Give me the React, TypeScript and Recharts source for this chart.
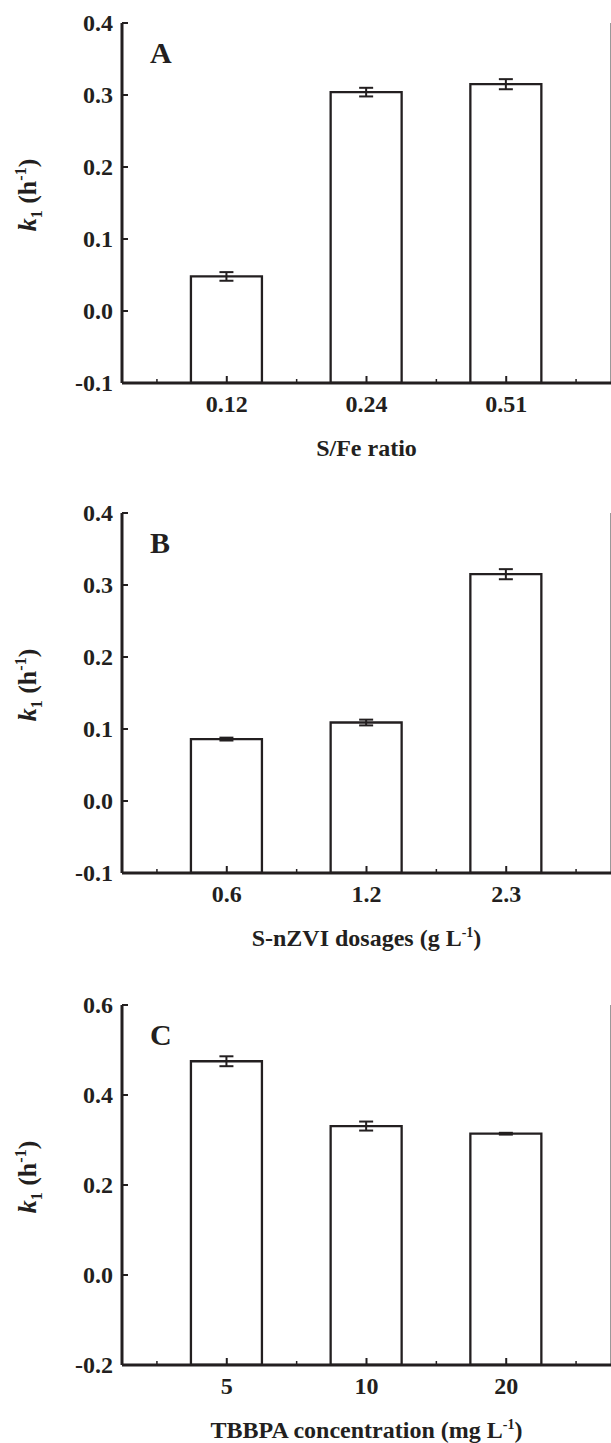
import React from 'react';
import { BarChart, Bar, XAxis, YAxis, ErrorBar, ReferenceLine } from 'recharts';

// category positions on the x axis
const positions = [1, 2, 3];

// Panel A
const labelsA = ['0.12', '0.24', '0.51'];
const valuesA = [0.048, 0.304, 0.315];
const errorsA = [0.006, 0.006, 0.007];
const yTicksA = [-0.1, 0, 0.1, 0.2, 0.3, 0.4];

// Panel B
const labelsB = ['0.6', '1.2', '2.3'];
const valuesB = [0.086, 0.109, 0.315];
const errorsB = [0.002, 0.004, 0.007];
const yTicksB = [-0.1, 0, 0.1, 0.2, 0.3, 0.4];

// Panel C
const labelsC = ['5', '10', '20'];
const valuesC = [0.475, 0.331, 0.314];
const errorsC = [0.011, 0.01, 0.002];
const yTicksC = [-0.2, 0, 0.2, 0.4, 0.6];

const xTicks = [0.5, 1, 1.5, 2, 2.5, 3, 3.5];
const topTicks = [1, 2, 3, 4, 5, 6, 7, 8, 9];

const FONT = "'Liberation Serif', 'Times New Roman', serif";
const INK = '#231f20';

type PanelProps = {
  labels: string[];
  values: number[];
  errors: number[];
  yTicks: number[];
  decimals: number;
  letter: string;
  title: React.ReactNode;
  height: number;
  marginTop: number;
};

function Panel({ labels, values, errors, yTicks, decimals, letter, title, height, marginTop }: PanelProps) {
  const yMin = yTicks[0];
  const yMax = yTicks[yTicks.length - 1];
  const data = positions.map((p, i) => ({ pos: p, range: [yMin, values[i]], err: errors[i] }));

  const XTick = (props: any) => {
    const { x, y, payload } = props;
    const idx = positions.indexOf(payload.value);
    if (idx < 0) {
      return <line x1={x} x2={x} y1={y} y2={y - 4} stroke={INK} strokeWidth={1.5} />;
    }
    return (
      <g>
        <line x1={x} x2={x} y1={y} y2={y - 7} stroke={INK} strokeWidth={2} />
        <text x={x} y={y + 29} textAnchor="middle" fontFamily={FONT} fontWeight="bold" fontSize={24} fill={INK}>
          {labels[idx]}
        </text>
      </g>
    );
  };

  const TopTick = (props: any) => {
    const { x, y } = props;
    return <line x1={x} x2={x} y1={y} y2={y + 4} stroke="#777" strokeWidth={1} />;
  };

  const YTick = (props: any) => {
    const { x, y, payload } = props;
    return (
      <g>
        <line x1={x} x2={x + 6} y1={y} y2={y} stroke={INK} strokeWidth={2} />
        <text x={x - 9} y={y} dy="0.35em" textAnchor="end" fontFamily={FONT} fontWeight="bold" fontSize={24} fill={INK}>
          {Number(payload.value).toFixed(decimals)}
        </text>
      </g>
    );
  };

  const yLabel = (props: any) => {
    const vb = props.viewBox || { x: 0, y: marginTop, width: 122, height: 360 };
    const bx = vb.x + 36;
    const cy = vb.y + vb.height / 2 - 8;
    return (
      <g>
        <text
          x={bx}
          y={cy}
          transform={`rotate(-90 ${bx} ${cy})`}
          textAnchor="middle"
          fontFamily={FONT}
          fontWeight="bold"
          fontSize={26}
          fill={INK}
        >
          <tspan fontStyle="italic">k</tspan>
          <tspan dy={6} fontSize={16}>1</tspan>
          <tspan dy={-6}>{'\u00A0(h'}</tspan>
          <tspan dy={-10} fontSize={16}>-1</tspan>
          <tspan dy={10}>)</tspan>
        </text>
        <text x={vb.x + vb.width + 28} y={vb.y + 40} fontFamily={FONT} fontWeight="bold" fontSize={30} fill={INK}>
          {letter}
        </text>
      </g>
    );
  };

  const xTitle = (props: any) => {
    const vb = props.viewBox || { x: 122, y: marginTop + 360, width: 489, height: 100 };
    return (
      <text
        x={vb.x + vb.width / 2}
        y={vb.y + 73}
        textAnchor="middle"
        fontFamily={FONT}
        fontWeight="bold"
        fontSize={24}
        fill={INK}
      >
        {title}
      </text>
    );
  };

  return (
    <BarChart
      width={611}
      height={height}
      data={data}
      margin={{ top: marginTop, right: 0, left: 0, bottom: 0 }}
    >
      <XAxis
        dataKey="pos"
        type="number"
        domain={[0.25, 3.75]}
        ticks={xTicks}
        interval={0}
        tick={XTick}
        tickLine={false}
        tickSize={0}
        tickMargin={0}
        axisLine={{ stroke: INK, strokeWidth: 3 }}
        height={height - marginTop - 360}
        allowDataOverflow
        label={xTitle}
      />
      <XAxis
        xAxisId="top"
        orientation="top"
        type="number"
        domain={[0, 10]}
        ticks={topTicks}
        interval={0}
        tick={TopTick}
        tickLine={false}
        tickSize={0}
        tickMargin={0}
        axisLine={{ stroke: INK, strokeWidth: 3 }}
        height={0}
        allowDataOverflow
      />
      <YAxis
        type="number"
        domain={[yMin, yMax]}
        ticks={yTicks}
        interval={0}
        width={122}
        tick={YTick}
        tickLine={false}
        tickSize={0}
        tickMargin={0}
        axisLine={{ stroke: INK, strokeWidth: 3 }}
        allowDataOverflow
        label={yLabel}
      />
      <ReferenceLine x={3.75} stroke="#999" strokeWidth={2} ifOverflow="visible" />
      <Bar
        dataKey="range"
        fill="#ffffff"
        stroke={INK}
        strokeWidth={2.3}
        barSize={71}
        isAnimationActive={false}
      >
        <ErrorBar dataKey="err" direction="y" width={7} stroke={INK} strokeWidth={2} />
      </Bar>
    </BarChart>
  );
}

export default function App() {
  return (
    <div style={{ position: 'absolute', left: 0, top: 0, width: 611, height: 1443, background: '#fff' }}>
      <Panel
        labels={labelsA}
        values={valuesA}
        errors={errorsA}
        yTicks={yTicksA}
        decimals={1}
        letter="A"
        title="S/Fe ratio"
        height={490}
        marginTop={23}
      />
      <Panel
        labels={labelsB}
        values={valuesB}
        errors={errorsB}
        yTicks={yTicksB}
        decimals={1}
        letter="B"
        title={
          <>
            <tspan>S-nZVI dosages (g L</tspan>
            <tspan dy={-9} fontSize={14}>-1</tspan>
            <tspan dy={9}>)</tspan>
          </>
        }
        height={490}
        marginTop={23}
      />
      <Panel
        labels={labelsC}
        values={valuesC}
        errors={errorsC}
        yTicks={yTicksC}
        decimals={1}
        letter="C"
        title={
          <>
            <tspan>TBBPA concentration (mg L</tspan>
            <tspan dy={-9} fontSize={14}>-1</tspan>
            <tspan dy={9}>)</tspan>
          </>
        }
        height={463}
        marginTop={25}
      />
    </div>
  );
}
